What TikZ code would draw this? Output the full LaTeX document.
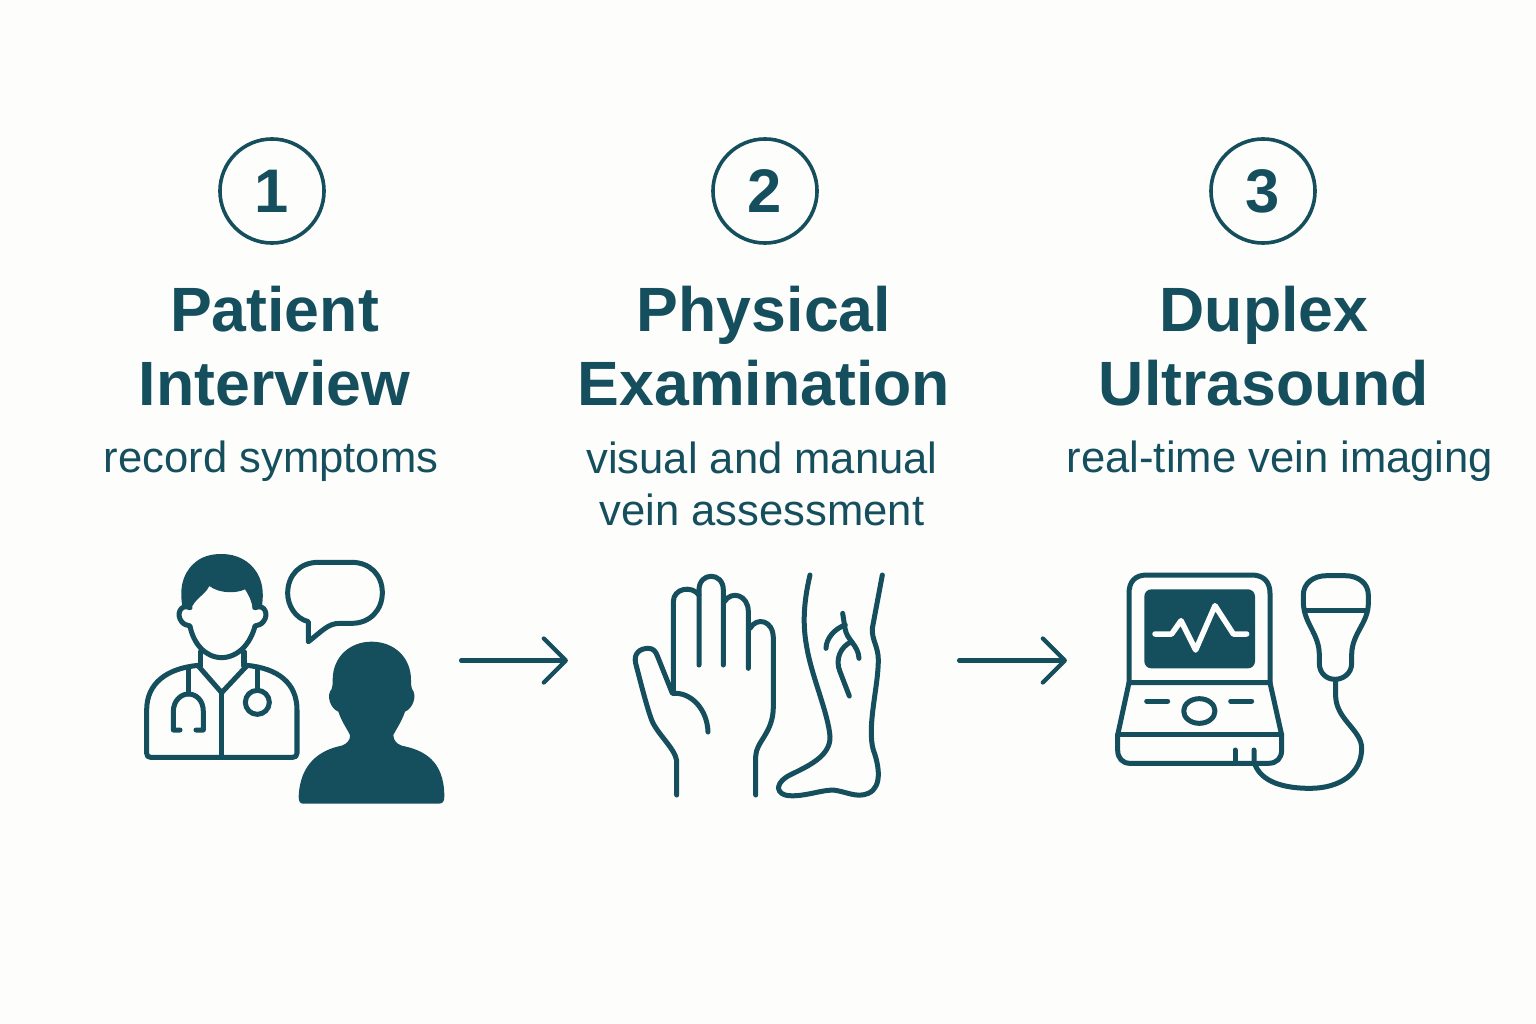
\documentclass[tikz,border=0pt]{standalone}
\usepackage{fontspec}
\setmainfont{Liberation Sans}
\usepackage{xcolor}
\usetikzlibrary{positioning,arrows.meta}
\definecolor{veinteal}{HTML}{154E5D}
\definecolor{paperwhite}{HTML}{FDFDFB}
\tikzset{
numcircle/.style={
draw=veinteal,
circle,
line width=0.36mm,
minimum size=10.4cm/10,
inner sep=0pt,
text=veinteal,
font=\fontsize{17.5}{20}\selectfont\bfseries
},
steptitle/.style={
align=center,
inner sep=0pt,
text=veinteal,
font=\fontsize{17.8}{21}\selectfont\bfseries
},
stepnote/.style={
align=center,
inner sep=0pt,
text=veinteal,
font=\fontsize{12.4}{14.8}\selectfont
},
iconslot/.style={
inner sep=0pt,
outer sep=0pt,
minimum height=1mm
},
arrow/.style={
-{Straight Barb[length=2.2mm,width=4.4mm,round]},
line width=0.42mm,
draw=veinteal,
line cap=round
},
iconline/.style={
draw=veinteal,
line width=0.5mm,
line cap=round,
line join=round
},
iconfill/.style={
fill=veinteal,
draw=none
}
}
\begin{document}
\begin{tikzpicture}[x=0.01cm,y=-0.01cm]
\useasboundingbox[fill=paperwhite] (0,0) rectangle (1536,1024);

% numbers
\node[numcircle](numa) at (272,191){1};
\node[numcircle](numb) at (765,191){2};
\node[numcircle](numc) at (1263,191){3};

% titles
\node[steptitle](titlea) at (274.5,346){Patient\\Interview};
\node[steptitle](titleb) at (764,346){Physical\\Examination};
\node[steptitle](titlec) at (1264,346){Duplex\\Ultrasound};

% notes
\node[stepnote](notea) at (271,461){record symptoms};
\node[stepnote](noteb) at (762,484){visual and manual\\vein assessment};
\node[stepnote](notec) at (1280,461){real-time vein imaging};

% slots for the arrows
\node[iconslot,minimum width=3.32cm](icona) at (295,660.5){};
\node[iconslot,minimum width=3.91cm](iconb) at (763.5,660.5){};
\node[iconslot,minimum width=3.5cm](iconc) at (1242,660.5){};
\draw[arrow](icona)--(iconb);
\draw[arrow](iconb)--(iconc);

% doctor
\begin{scope}[shift={(130,540)},xscale=1/3,yscale=1/3]
\fill[iconfill] (158,205) .. controls (148,150) and (155,105) .. (190,72) .. controls (215,48) and (245,42) .. (275,42) .. controls (320,42) and (360,62) .. (382,100) .. controls (400,130) and (402,170) .. (394,207) -- (368,207) .. controls (366,185) and (358,168) .. (345,148) .. controls (320,160) and (270,162) .. (238,138) .. controls (225,165) and (195,175) .. (183,207) -- cycle;
\draw[iconline] (180,203) .. controls (150,190) and (138,225) .. (155,245) .. controls (162,255) and (172,255) .. (180,258) .. controls (190,310) and (225,352) .. (275,353) .. controls (325,352) and (362,310) .. (375,258) .. controls (383,255) and (393,255) .. (400,245) .. controls (417,225) and (405,190) .. (375,203);
\draw[iconline] (211,335) -- (211,378);
\draw[iconline] (342,335) -- (342,378);
\draw[iconline] (205,378) -- (275,458) -- (350,378);
\draw[iconline] (205,376) .. controls (110,385) and (50,430) .. (50,510) -- (50,640) .. controls (50,648) and (54,652) .. (62,652) -- (488,652) .. controls (496,652) and (501,648) .. (501,640) -- (501,510) .. controls (501,430) and (445,385) .. (350,376);
\draw[iconline] (275,458) -- (275,652);
\draw[iconline] (175,388) -- (175,462);
\draw[iconline] (150,570) -- (130,570) -- (130,515) .. controls (130,480) and (155,462) .. (175,462) .. controls (198,462) and (220,480) .. (220,515) -- (220,570) -- (198,570);
\draw[iconline] (382,388) -- (382,450);
\draw[iconline] (382,487) circle [radius=36];
% bubble
\draw[iconline] (535,305) -- (535,245) .. controls (495,235) and (473,195) .. (473,160) .. controls (473,105) and (510,67) .. (565,67) -- (665,67) .. controls (720,67) and (757,105) .. (757,158) .. controls (757,210) and (720,250) .. (665,250) -- (630,250) .. controls (595,250) and (580,270) .. cycle;
% patient
\fill[iconfill] (725,305) .. controls (790,305) and (843,350) .. (843,420) .. controls (843,430) and (843,440) .. (846,447) .. controls (862,465) and (850,505) .. (825,515) .. controls (815,545) and (800,565) .. (790,585) .. controls (790,600) and (800,612) .. (815,617) .. controls (880,630) and (943,660) .. (943,770) .. controls (943,785) and (938,791) .. (925,791) -- (520,791) .. controls (510,791) and (506,785) .. (506,770) .. controls (510,670) and (570,630) .. (635,617) .. controls (650,612) and (662,600) .. (660,585) .. controls (650,565) and (635,545) .. (625,515) .. controls (600,505) and (588,465) .. (605,447) .. controls (608,440) and (608,430) .. (608,420) .. controls (608,350) and (660,305) .. (725,305) -- cycle;
\end{scope}

% hand
\begin{scope}[shift={(620,560)},xscale=1/3,yscale=1/3]
\draw[iconline] (170,705) -- (170,602) .. controls (165,565) and (110,520) .. (95,480) .. controls (80,440) and (60,360) .. (47,310) .. controls (40,280) and (60,265) .. (85,265) .. controls (100,265) and (108,275) .. (113,290) -- (157,400) .. controls (215,395) and (262,450) .. (264,516);
\draw[iconline] (160,400) -- (160,125) .. controls (160,85) and (215,75) .. (237,105);
\draw[iconline] (237,315) -- (237,90) .. controls (237,35) and (310,35) .. (310,90) -- (310,315);
\draw[iconline] (313,125) .. controls (335,90) and (385,105) .. (385,155) -- (385,325);
\draw[iconline] (390,205) .. controls (410,170) and (460,180) .. (460,235) -- (460,440) .. controls (460,520) and (407,545) .. (407,590) -- (407,705);
% leg
\draw[iconline] (570,45) .. controls (555,110) and (545,180) .. (560,260) .. controls (575,350) and (625,460) .. (630,530) .. controls (632,590) and (560,620) .. (510,645) .. controls (470,665) and (465,695) .. (495,705) .. controls (540,715) and (600,690) .. (640,690) .. controls (680,695) and (710,715) .. (745,700) .. controls (790,680) and (775,610) .. (760,570) .. controls (740,500) and (775,380) .. (775,300) .. controls (775,260) and (755,240) .. (757,205) -- (787,45);
\draw[iconline] (668,160) -- (675,205) .. controls (680,240) and (715,255) .. (717,295);
\draw[iconline] (676,195) .. controls (645,205) and (618,235) .. (618,265);
\draw[iconline] (695,245) .. controls (660,260) and (645,300) .. (660,335) -- (688,408);
\end{scope}

% scanner
\begin{scope}[shift={(1100,560)},xscale=1/3,yscale=1/3]
\draw[iconline] (87,368) -- (87,100) .. controls (87,65) and (105,45) .. (140,45) -- (455,45) .. controls (490,45) and (510,65) .. (510,100) -- (510,368) -- cycle;
\fill[iconfill,rounded corners=2pt] (133,88) rectangle (465,325);
\draw[iconline,draw=paperwhite,line width=0.55mm] (165,222) -- (215,222) -- (243,182) -- (287,270) -- (345,137) -- (400,222) -- (440,222);
\draw[iconline] (87,368) -- (53,525) -- (53,570) .. controls (53,595) and (68,610) .. (90,610) -- (505,610) .. controls (530,610) and (545,595) .. (545,570) -- (545,525) -- (510,368);
\draw[iconline] (53,523) -- (545,523);
\draw[iconline] (140,423) -- (203,423);
\draw[iconline] (392,423) -- (455,423);
\draw[iconline] (298,453) ellipse [x radius=47,y radius=37];
\draw[iconline] (405,570) -- (405,610);
\draw[iconline] (462,570) -- (462,605) .. controls (480,670) and (560,685) .. (630,685) .. controls (720,685) and (785,640) .. (785,565) .. controls (785,510) and (710,480) .. (707,410) -- (707,360);
\draw[iconline] (610,125) -- (610,105) .. controls (610,70) and (640,47) .. (680,47) -- (735,47) .. controls (775,47) and (805,70) .. (805,105) -- (805,130) .. controls (805,190) and (755,220) .. (755,285) -- (755,310) .. controls (755,340) and (730,358) .. (705,358) .. controls (680,358) and (658,340) .. (658,310) -- (658,285) .. controls (658,220) and (610,190) .. (610,125) -- cycle;
\draw[iconline] (615,150) -- (798,150);
\end{scope}
\end{tikzpicture}
\end{document}
